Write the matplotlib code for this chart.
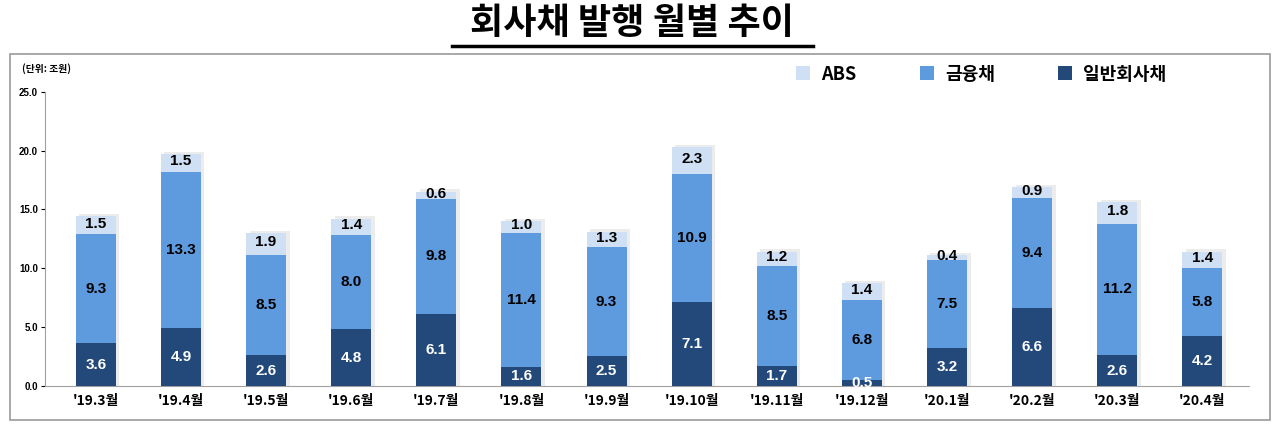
import matplotlib.pyplot as plt
from matplotlib.patches import Rectangle
import numpy as np

plt.rcParams['font.family'] = ['Noto Sans CJK KR', 'DejaVu Sans']

months = ["'19.3월", "'19.4월", "'19.5월", "'19.6월", "'19.7월", "'19.8월", "'19.9월",
          "'19.10월", "'19.11월", "'19.12월", "'20.1월", "'20.2월", "'20.3월", "'20.4월"]
general = [3.6, 4.9, 2.6, 4.8, 6.1, 1.6, 2.5, 7.1, 1.7, 0.5, 3.2, 6.6, 2.6, 4.2]
financial = [9.3, 13.3, 8.5, 8.0, 9.8, 11.4, 9.3, 10.9, 8.5, 6.8, 7.5, 9.4, 11.2, 5.8]
abs_vals = [1.5, 1.5, 1.9, 1.4, 0.6, 1.0, 1.3, 2.3, 1.2, 1.4, 0.4, 0.9, 1.8, 1.4]

c_gen = '#23497A'
c_fin = '#5E9BDE'
c_abs = '#CFE0F5'
num_font = ['Liberation Sans', 'DejaVu Sans']

fig = plt.figure(figsize=(12.8, 4.33), dpi=100)
fig.patches.append(Rectangle((0.008, 0.03), 0.984, 0.845, transform=fig.transFigure,
                             fill=False, edgecolor='#9A9A9A', linewidth=1.2))
ax = fig.add_axes([0.035, 0.109, 0.941, 0.679])

x = np.arange(len(months))
w = 0.47
gen = np.array(general)
fin = np.array(financial)
ab = np.array(abs_vals)

ax.bar(x, gen, w, color=c_gen, label='일반회사채', zorder=3)
ax.bar(x, fin, w, bottom=gen, color=c_fin, label='금융채', zorder=3)
ax.bar(x, ab, w, bottom=gen + fin, color=c_abs, label='ABS', zorder=3)
# soft shadow behind bars
ax.bar(x + 0.04, gen + fin + ab + 0.2, w, color='#ECECEC', zorder=2)

for i in range(len(x)):
    ax.text(x[i], gen[i] / 2, f'{gen[i]:.1f}', ha='center', va='center', family=num_font,
            color='white', fontsize=11, fontweight='bold', zorder=4)
    ax.text(x[i], gen[i] + fin[i] / 2, f'{fin[i]:.1f}', ha='center', va='center', family=num_font,
            color='black', fontsize=11, fontweight='bold', zorder=4)
    ax.text(x[i], gen[i] + fin[i] + ab[i] / 2 + 0.15, f'{ab[i]:.1f}', ha='center', va='center',
            family=num_font, color='black', fontsize=11, fontweight='bold', zorder=4)

ax.set_xlim(-0.6, 13.55)
ax.set_ylim(0, 25)
ax.set_yticks(np.arange(0, 25.1, 5))
ax.set_yticklabels([f'{v:.1f}' for v in np.arange(0, 25.1, 5)], fontsize=7, fontweight='bold',
                   family=num_font)
ax.set_xticks(x)
ax.set_xticklabels(months, fontsize=10, fontweight='bold')
ax.tick_params(axis='x', length=0, pad=6)
ax.tick_params(axis='y', length=3, pad=2)
for s in ['top', 'right']:
    ax.spines[s].set_visible(False)
for s in ['left', 'bottom']:
    ax.spines[s].set_color('#A0A0A0')

handles, labels = ax.get_legend_handles_labels()
ax.legend(handles[::-1], labels[::-1], ncol=3, loc='center left', bbox_to_anchor=(0.61, 1.06),
          frameon=False, prop={'weight': 'bold', 'size': 13},
          handlelength=0.8, handleheight=0.8, columnspacing=3.5, handletextpad=0.6)

fig.text(0.017, 0.835, '(단위: 조원)', fontsize=7, fontweight='bold')
fig.text(0.494, 0.945, '회사채 발행 월별 추이', ha='center', va='center', fontsize=26,
         fontweight='bold')
fig.add_artist(plt.Line2D([0.353, 0.635], [0.893, 0.893], transform=fig.transFigure,
                          color='black', linewidth=2.5))

fig.savefig('out.png', dpi=100)
